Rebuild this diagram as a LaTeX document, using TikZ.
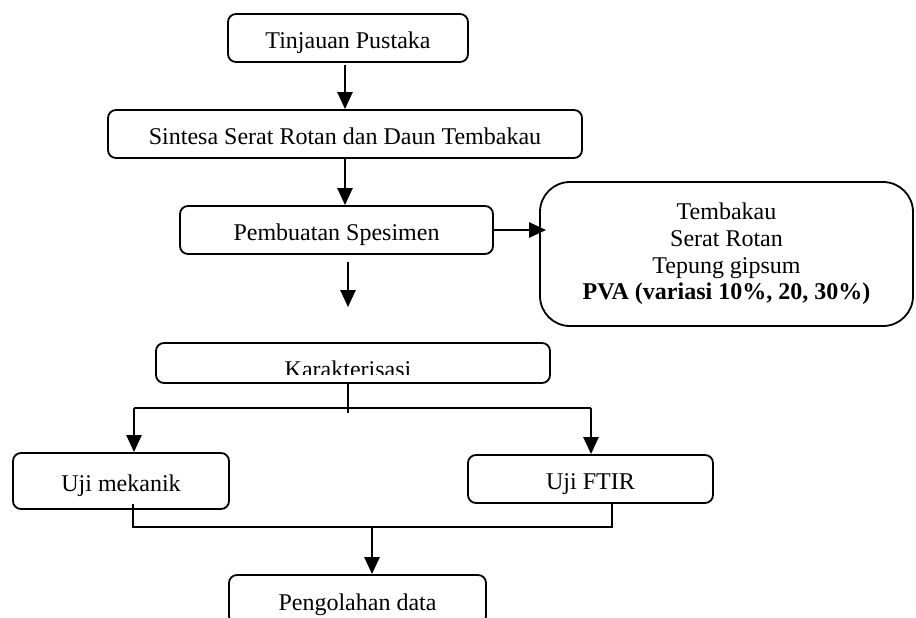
\documentclass[tikz,border=0pt]{standalone}
\usepackage{fontspec}
\setmainfont{Liberation Serif}
\usetikzlibrary{arrows.meta,calc}
\begin{document}
\begin{tikzpicture}[x=0.5pt,y=-0.5pt,
  font=\fontsize{12}{14}\selectfont,
  box/.style={draw, line width=0.9pt, rounded corners=4pt, inner sep=0pt},
  lbl/.style={box, text height=10.5pt, text depth=0pt},
  arr/.style={line width=1.2pt, -{Triangle[length=8.5pt,width=7.5pt]}},
  ln/.style={line width=0.9pt}]
\useasboundingbox (0,0) rectangle (916,617);
\clip (0,0) rectangle (916,617);
% boxes
\node[lbl, minimum width=120pt, minimum height=24pt] (tp) at (348,38) {Tinjauan Pustaka};
\node[lbl, minimum width=237pt, minimum height=24pt] (ss) at (345,134) {Sintesa Serat Rotan dan Daun Tembakau};
\node[lbl, minimum width=156.5pt, minimum height=24pt] (ps) at (336.5,230) {Pembuatan Spesimen};
\node[box, rounded corners=15pt, minimum width=186.5pt, minimum height=72pt, align=center,
      font=\fontsize{12}{13.4}\selectfont] (bb) at (726.5,254)
  {Tembakau\\Serat Rotan\\Tepung gipsum\\\textbf{PVA (variasi 10\%, 20, 30\%)}};
\node[box, minimum width=197pt, minimum height=20pt] (kr) at (353,363) {};
\begin{scope}
  \clip (kr.north west) rectangle (550,374);
  \node[anchor=base, inner sep=0pt] (krt) at (348,377.5) {Karakterisasi};
\end{scope}
\node[lbl, minimum width=108pt, minimum height=28pt] (um) at (121,481) {Uji mekanik};
\node[lbl, minimum width=122.5pt, minimum height=24pt] (uf) at (590.5,479) {Uji FTIR};
\node[lbl, minimum width=128.5pt, minimum height=24.5pt] (pd) at (357.5,599.5) {Pengolahan data};
% connectors
\draw[arr, shorten <=1pt] (tp.south -| ss.north) -- (ss.north);
\draw[arr] (ss.south) -- (ss.south |- ps.north);
\draw[arr, shorten >=-3.5pt] (ps.east) -- (ps.east -| bb.west);
\draw[arr, shorten <=3.5pt, shorten >=17.5pt] (ps.south -| krt) -- (kr.north -| krt);
\coordinate (L) at (134,408);
\coordinate (R) at (591,408);
\coordinate (S) at (348,408);
\draw[ln] (kr.south -| S) -- ([yshift=-2.5pt]S);
\draw[ln] (L) -- (R);
\draw[arr] (L) -- (L |- um.north);
\draw[arr] (R) -- (R |- uf.north);
\coordinate (BL) at (133,527);
\coordinate (BR) at (612,527);
\coordinate (BM) at (372,527);
\draw[ln] (BL |- uf.south) -- (BL) -- (BR) -- (BR |- uf.south);
\draw[arr] (BM) -- (BM |- pd.north);
\end{tikzpicture}
\end{document}
